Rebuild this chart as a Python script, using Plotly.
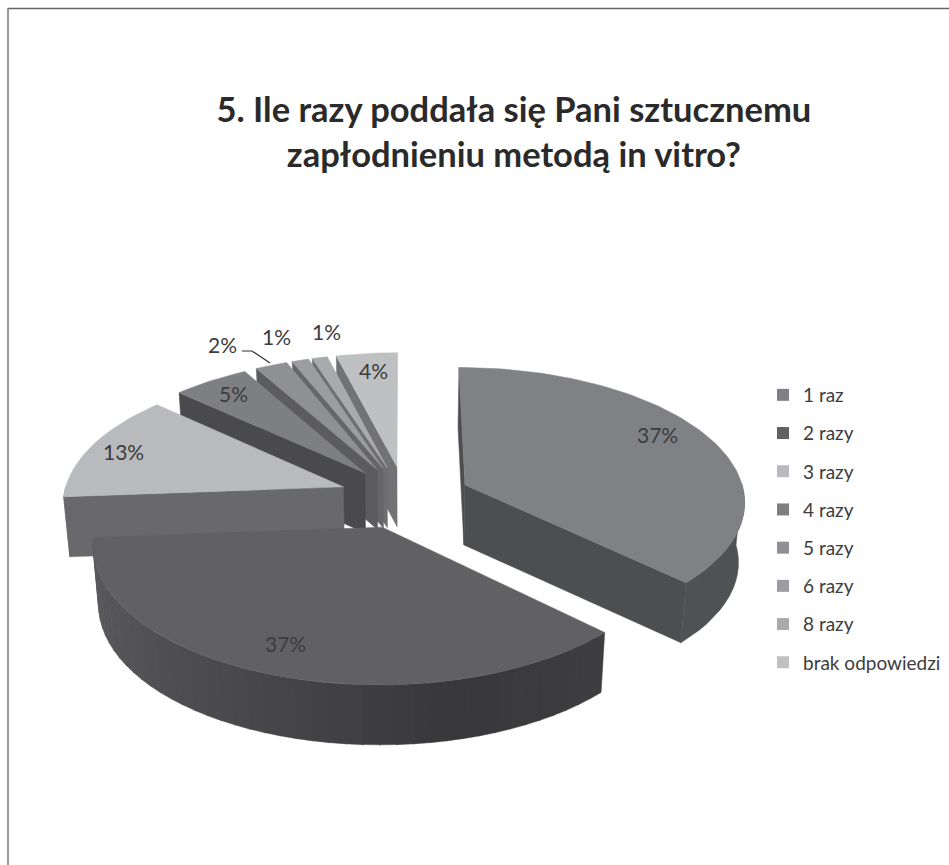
import math
import plotly.graph_objects as go

TITLE = "5. Ile razy poddała się Pani sztucznemu<br>zapłodnieniu metodą in vitro?"
categories = ["1 raz", "2 razy", "3 razy", "4 razy", "5 razy", "6 razy", "8 razy", "brak odpowiedzi"]
values = [37.2, 36.6, 13.0, 5.0, 2.1, 1.1, 1.0, 4.0]
labels = ["37%", "37%", "13%", "5%", "2%", "1%", "1%", "4%"]
top_colors = ["#808184", "#616163", "#b9babd", "#7e7f82", "#8f9093", "#9c9da0", "#a9aaad", "#bfc0c2"]
wall_colors = ["#4d4e50", "#4a4a4c", "#69696b", "#4a4a4c", "#5c5c5e", "#666668", "#6e6e70", "#727274"]
rim_colors = ["#505153", None, "#69696b", "#4a4a4c", "#5c5c5e", "#666668", "#6e6e70", "#727274"]
label_x = [657, 285, 123, 233, 222, 276, 326, 373]
label_y = [434, 643, 451, 393, 344, 336, 331, 370]

CX, CY, A, B, P, PULL, DEPTH, SHRINK = 405, 497, 280, 133, 0.111, 0.235, 60, 0.982


def project(X, Y, low=False):
    w = 1 + P * Y
    x = A * X / w
    y = -B * Y / w
    if low:
        x *= SHRINK
        y += DEPTH
    return CX + x, CY + y


def disk(theta, off):
    t = math.radians(theta)
    return off[0] + math.sin(t), off[1] + math.cos(t)


def hexlerp(c1, c2, f):
    a = [int(c1[i:i + 2], 16) for i in (1, 3, 5)]
    b = [int(c2[i:i + 2], 16) for i in (1, 3, 5)]
    return "#%02x%02x%02x" % tuple(round(p + (q - p) * f) for p, q in zip(a, b))


def rim_shade(theta):
    # front wall of the large slice: lighter at left, darkest towards the front-right
    stops = [(130, "#3f3f41"), (165, "#38383a"), (195, "#454547"), (235, "#545456"), (270, "#5a5a5c")]
    for (t1, c1), (t2, c2) in zip(stops, stops[1:]):
        if t1 <= theta <= t2:
            return hexlerp(c1, c2, (theta - t1) / (t2 - t1))
    return stops[-1][1]


fig = go.Figure()


def poly(points, color):
    fig.add_trace(go.Scatter(
        x=[p[0] for p in points] + [points[0][0]],
        y=[p[1] for p in points] + [points[0][1]],
        mode="lines", fill="toself", fillcolor=color,
        line=dict(color=color, width=0.5),
        hoverinfo="skip", showlegend=False,
    ))


total = sum(values)
spans = []
start = 0.0
for v in values:
    end = start + 360 * v / total
    spans.append((start, end))
    start = end

for i in [7, 6, 5, 4, 3, 2, 0, 1]:
    s, e = spans[i]
    mid = math.radians((s + e) / 2)
    off = (PULL * math.sin(mid), PULL * math.cos(mid))
    # cut face at slice start
    if i != 1:
        for th, clr in ([(s, wall_colors[i])] if i != 0 else [(s, wall_colors[i]), (e, wall_colors[i])]):
            o = disk(th, off)
            poly([project(*off), project(*o), project(*o, True), project(*off, True)], clr)
    # outer rim, front part
    a0, a1 = max(s, 90), min(e, 270)
    if a1 > a0:
        n = max(2, int((a1 - a0) / 3))
        step = (a1 - a0) / n
        if i == 1:
            for k in range(n):
                t0, t1 = a0 + k * step, a0 + (k + 1) * step + 0.2
                d0, d1 = disk(t0, off), disk(min(t1, a1), off)
                poly([project(*d0), project(*d1), project(*d1, True), project(*d0, True)], rim_shade(t0))
        else:
            ts = [a0 + k * step for k in range(n + 1)]
            up = [project(*disk(t, off)) for t in ts]
            lo = [project(*disk(t, off), True) for t in reversed(ts)]
            poly(up + lo, rim_colors[i])
    # top surface
    n = max(2, int((e - s) / 1.5))
    pts = [project(*off)] + [project(*disk(s + (e - s) * k / n, off)) for k in range(n + 1)]
    poly(pts, top_colors[i])

for c, col in zip(categories, top_colors):
    fig.add_trace(go.Scatter(
        x=[None], y=[None], mode="markers", name=c, legendgroup=c,
        marker=dict(symbol="square", size=12, color=col),
    ))

for t, x, y in zip(labels, label_x, label_y):
    fig.add_annotation(x=x, y=y, text=t, showarrow=False,
                       font=dict(family="Lato", size=21, color="#3c3c3e"))

fig.update_layout(
    width=949, height=865, margin=dict(l=0, r=0, t=0, b=0),
    paper_bgcolor="white", plot_bgcolor="white",
    xaxis=dict(visible=False, range=[0, 949], fixedrange=True),
    yaxis=dict(visible=False, range=[865, 0], fixedrange=True),
    title=dict(text=TITLE, x=0.5415, xanchor="center", y=0.8585, yanchor="bottom",
               font=dict(family="Lato", size=34.5, color="#2a2a2a", weight="bold")),
    legend=dict(x=763 / 949, xanchor="left", y=1 - 376 / 865, yanchor="top",
                font=dict(family="Lato", size=19, color="#3c3c3e"),
                traceorder="grouped", tracegroupgap=10.5, bgcolor="rgba(0,0,0,0)",
                itemclick=False, itemdoubleclick=False),
    shapes=[
        dict(type="line", xref="x", yref="y", x0=8, x1=949, y0=8.5, y1=8.5, line=dict(color="#666666", width=1.5)),
        dict(type="line", xref="x", yref="y", x0=8, x1=8, y0=8, y1=865, line=dict(color="#777777", width=1.5)),
        dict(type="path", xref="x", yref="y", path="M 242 351 L 252 351 L 270 363", line=dict(color="#333333", width=1.2)),
    ],
)

fig.write_html("out.html", config={"displayModeBar": False},
               post_script="document.body.style.margin='0';document.body.style.overflow='hidden';")
